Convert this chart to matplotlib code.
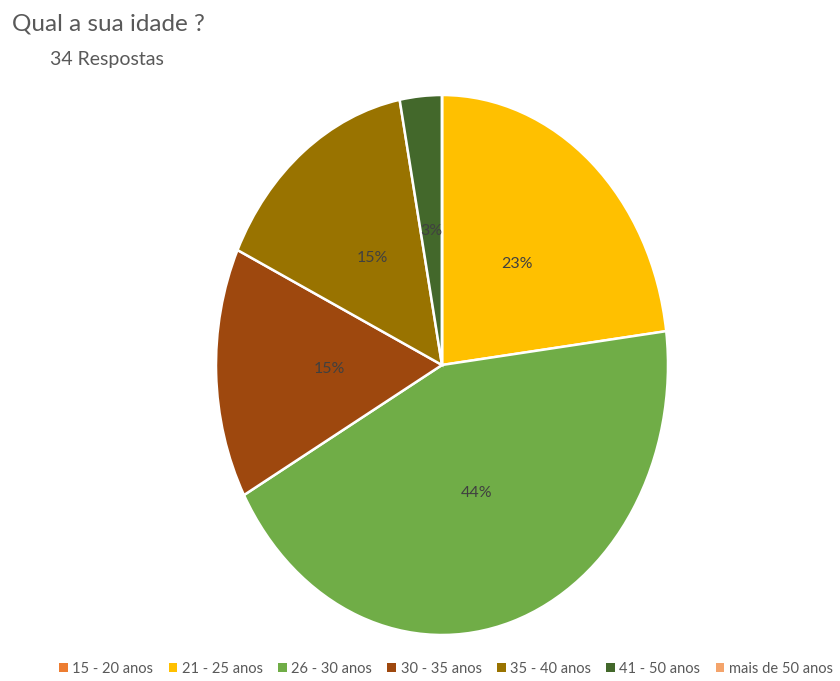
import matplotlib.pyplot as plt
from matplotlib.patches import Patch

# Faixas etárias e percentual de respostas (34 no total)
faixas = ['15 - 20 anos', '21 - 25 anos', '26 - 30 anos', '30 - 35 anos',
          '35 - 40 anos', '41 - 50 anos', 'mais de 50 anos']
percentuais = [0, 23, 44, 15, 15, 3, 0]
cores = ['#ED7D31', '#FFC000', '#70AD47', '#9E480E',
         '#997300', '#43682B', '#F4A46B']

plt.rcParams['font.family'] = ['Lato', 'DejaVu Sans']

fig = plt.figure(figsize=(8.4, 6.81), dpi=100)

# eixo esticado na vertical (pizza levemente oval)
ax = fig.add_axes([216 / 840, 46 / 681, 452 / 840, 540 / 681])


def rotulo(p):
    return f'{p:.0f}%' if p > 0 else ''


wedges, textos, pcts = ax.pie(percentuais, colors=cores, startangle=90,
                              counterclock=False, autopct=rotulo,
                              pctdistance=0.5,
                              wedgeprops=dict(edgecolor='white', linewidth=1.8),
                              textprops=dict(color='#404040', fontsize=11.5))
ax.set_aspect('auto')
ax.set_xlim(-1, 1)
ax.set_ylim(-1, 1)

fig.text(12 / 840, 1 - 24 / 681, 'Qual a sua idade ?', fontsize=17.5,
         color='#595959', va='center', ha='left')
fig.text(50 / 840, 1 - 60 / 681, '34 Respostas', fontsize=14,
         color='#595959', va='center', ha='left')

handles = [Patch(facecolor=c, edgecolor='none') for c in cores]
fig.legend(handles, faixas, loc='center', bbox_to_anchor=(0.531, 1 - 669 / 681),
           ncol=7, frameon=False, fontsize=10.5, labelcolor='#595959',
           handlelength=0.6, handleheight=0.6, handletextpad=0.3,
           columnspacing=1.05)

fig.savefig('out.png', dpi=100)
